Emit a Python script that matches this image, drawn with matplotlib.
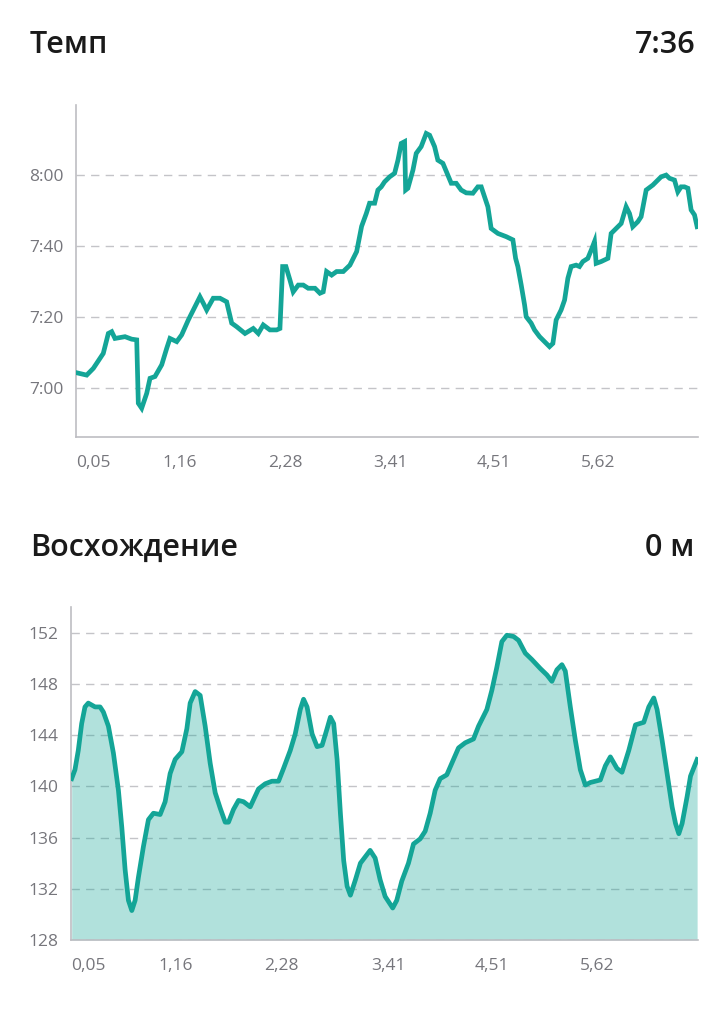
import matplotlib
matplotlib.use('Agg')
import matplotlib.pyplot as plt
from matplotlib.ticker import FuncFormatter, FixedLocator

plt.rcParams['font.family'] = ['Open Sans', 'DejaVu Sans']

# pace chart: distance (km) and pace (seconds per km)
pace_km = [0.05, 0.164, 0.235, 0.306, 0.341, 0.395, 0.431, 0.466, 0.573, 0.644,
           0.698, 0.715, 0.751, 0.805, 0.840, 0.893, 0.965, 1.018, 1.053, 1.125,
           1.178, 1.249, 1.338, 1.373, 1.409, 1.445, 1.515, 1.587, 1.658, 1.712,
           1.765, 1.854, 1.942, 1.996, 2.049, 2.120, 2.192, 2.227, 2.256, 2.291,
           2.334, 2.369, 2.423, 2.476, 2.529, 2.601, 2.654, 2.689, 2.725, 2.779,
           2.832, 2.903, 2.974, 3.046, 3.099, 3.149, 3.184, 3.238, 3.273, 3.309,
           3.344, 3.398, 3.451, 3.487, 3.522, 3.558, 3.569, 3.593, 3.647, 3.682,
           3.735, 3.789, 3.825, 3.878, 3.913, 3.967, 4.020, 4.056, 4.109, 4.162,
           4.216, 4.287, 4.340, 4.376, 4.412, 4.447, 4.482, 4.554, 4.643, 4.714,
           4.743, 4.767, 4.803, 4.839, 4.856, 4.909, 4.945, 4.999, 5.052, 5.105,
           5.141, 5.176, 5.229, 5.266, 5.301, 5.336, 5.389, 5.425, 5.461, 5.514,
           5.550, 5.585, 5.603, 5.656, 5.728, 5.763, 5.816, 5.870, 5.923, 5.959,
           5.994, 6.048, 6.083, 6.137, 6.208, 6.261, 6.296, 6.350, 6.386, 6.439,
           6.475, 6.510, 6.546, 6.582, 6.617, 6.653, 6.681]
pace_sec = [424.4, 423.7, 425.6, 428.4, 429.8, 435.4, 435.9, 434.0, 434.5, 433.8,
            433.6, 415.8, 414.4, 418.6, 422.8, 423.3, 426.6, 431.2, 434.0, 433.1,
            435.0, 439.2, 443.9, 445.7, 443.9, 442.0, 445.3, 445.3, 444.3, 438.3,
            437.3, 435.4, 436.8, 435.4, 437.8, 436.4, 436.4, 436.8, 454.2, 454.2,
            450.4, 447.1, 449.0, 449.0, 448.1, 448.1, 446.7, 447.1, 452.8, 451.8,
            452.8, 452.8, 454.6, 458.4, 465.5, 469.1, 472.0, 472.0, 475.7, 476.6,
            478.0, 479.4, 480.4, 484.1, 488.8, 489.3, 475.7, 476.2, 481.3, 486.0,
            487.9, 491.6, 491.1, 487.9, 484.1, 483.2, 479.9, 477.6, 477.6, 475.7,
            474.9, 474.8, 476.6, 476.6, 473.8, 471.0, 464.9, 463.5, 462.6, 461.7,
            456.5, 454.2, 449.0, 443.4, 440.1, 438.3, 436.4, 434.5, 433.1, 431.7,
            432.6, 439.2, 442.0, 444.8, 450.9, 454.2, 454.6, 454.2, 455.6, 456.5,
            458.8, 461.2, 455.1, 455.6, 456.5, 463.5, 464.9, 466.3, 471.0, 469.1,
            465.4, 466.8, 468.2, 475.7, 477.1, 478.5, 479.4, 479.9, 479.0, 478.5,
            475.2, 476.6, 476.6, 476.2, 470.1, 468.7, 465.4]

# elevation chart: distance (km) and height (m)
elev_km = [0.057, 0.092, 0.127, 0.163, 0.198, 0.233, 0.305, 0.358, 0.393, 0.446,
           0.499, 0.552, 0.588, 0.623, 0.658, 0.694, 0.729, 0.764, 0.817, 0.870,
           0.923, 0.994, 1.047, 1.100, 1.153, 1.224, 1.277, 1.312, 1.365, 1.418,
           1.471, 1.524, 1.577, 1.630, 1.683, 1.718, 1.771, 1.824, 1.877, 1.948,
           2.036, 2.107, 2.178, 2.248, 2.301, 2.372, 2.425, 2.478, 2.513, 2.550,
           2.603, 2.656, 2.709, 2.762, 2.797, 2.832, 2.868, 2.903, 2.938, 2.974,
           3.009, 3.062, 3.115, 3.218, 3.271, 3.324, 3.377, 3.457, 3.500, 3.553,
           3.624, 3.677, 3.748, 3.801, 3.854, 3.907, 3.960, 4.030, 4.083, 4.154,
           4.225, 4.313, 4.366, 4.454, 4.507, 4.560, 4.613, 4.666, 4.737, 4.790,
           4.861, 4.931, 5.020, 5.090, 5.143, 5.196, 5.249, 5.285, 5.338, 5.391,
           5.444, 5.497, 5.550, 5.656, 5.709, 5.762, 5.832, 5.885, 5.957, 6.028,
           6.116, 6.169, 6.222, 6.257, 6.310, 6.363, 6.416, 6.452, 6.487, 6.522,
           6.575, 6.611, 6.681]
elev_m = [140.6, 141.3, 142.8, 144.9, 146.2, 146.5, 146.2, 146.2, 145.8, 144.7,
          142.6, 139.7, 136.8, 133.5, 131.1, 130.3, 131.1, 132.9, 135.3, 137.4,
          137.9, 137.8, 138.8, 141.0, 142.1, 142.7, 144.5, 146.5, 147.4, 147.1,
          144.7, 141.8, 139.5, 138.3, 137.2, 137.2, 138.2, 138.9, 138.8, 138.4,
          139.8, 140.2, 140.4, 140.4, 141.4, 142.8, 144.1, 146.0, 146.8, 146.2,
          144.1, 143.1, 143.2, 144.5, 145.4, 144.9, 142.1, 137.9, 134.2, 132.2,
          131.5, 132.7, 134.0, 135.0, 134.4, 132.7, 131.4, 130.5, 131.1, 132.6,
          134.0, 135.5, 135.9, 136.5, 137.9, 139.7, 140.6, 140.9, 141.8, 143.0,
          143.4, 143.7, 144.7, 146.0, 147.5, 149.3, 151.3, 151.8, 151.7, 151.4,
          150.4, 149.9, 149.2, 148.7, 148.2, 149.1, 149.5, 149.0, 146.2, 143.6,
          141.3, 140.1, 140.3, 140.5, 141.6, 142.3, 141.4, 141.1, 142.8, 144.8,
          145.0, 146.2, 146.9, 146.0, 143.6, 141.0, 138.4, 137.1, 136.3, 137.1,
          139.2, 140.8, 142.1]

x_ticks = [0.05, 1.16, 2.28, 3.41, 4.51, 5.62]
pace_ticks = [420, 440, 460, 480]
elev_ticks = [128, 132, 136, 140, 144, 148, 152]

line_color = '#14a597'
fill_color = '#14a597'
grid_color = '#c4c4c8'
label_color = '#76767c'
spine_color = '#bdbdc2'


def style_axes(ax, yticks, yfmt):
    ax.set_xlim(0.05, 6.69)
    ax.xaxis.set_major_locator(FixedLocator(x_ticks))
    ax.xaxis.set_major_formatter(FuncFormatter(lambda v, p: f'{v:.2f}'.replace('.', ',')))
    ax.yaxis.set_major_locator(FixedLocator(yticks))
    ax.yaxis.set_major_formatter(FuncFormatter(yfmt))
    ax.tick_params(length=0, labelsize=12.5, labelcolor=label_color)
    ax.tick_params(axis='x', pad=13)
    ax.tick_params(axis='y', pad=9)
    for s in ['top', 'right']:
        ax.spines[s].set_visible(False)
    for s in ['left', 'bottom']:
        ax.spines[s].set_color(spine_color)
        ax.spines[s].set_linewidth(1.2)
    ax.grid(axis='y', color=grid_color, linestyle=(0, (6, 4.5)), linewidth=1.0)
    ax.set_axisbelow(True)
    ax.get_xticklabels()[0].set_horizontalalignment('left')


fig = plt.figure(figsize=(7.26, 10.24), dpi=100)

# pace
ax1 = fig.add_axes([0.1047, 0.5732, 0.8567, 0.3243])
ax1.plot(pace_km, pace_sec, color=line_color, linewidth=3.4,
         solid_joinstyle='miter', zorder=3)
ax1.set_ylim(406.3, 499.6)
style_axes(ax1, pace_ticks, lambda v, p: f'{int(v) // 60}:{int(v) % 60:02d}')
fig.text(30 / 726, 1 - 53 / 1024, 'Темп', fontsize=22, fontweight='semibold',
         color='#1a1a1a', ha='left', va='baseline')
fig.text(696 / 726, 1 - 53 / 1024, '7:36', fontsize=22, fontweight='semibold',
         color='#1a1a1a', ha='right', va='baseline')

# elevation
ax2 = fig.add_axes([0.0978, 0.0820, 0.8636, 0.3252])
ax2.fill_between(elev_km, elev_m, 128, color=fill_color, alpha=0.33,
                 linewidth=0, zorder=2)
ax2.plot(elev_km, elev_m, color=line_color, linewidth=3.4,
         solid_joinstyle='round', zorder=3)
ax2.set_ylim(128, 154)
style_axes(ax2, elev_ticks, lambda v, p: f'{int(v)}')
ax2.grid(axis='y', color=grid_color, linestyle=(0, (6, 4.5)), linewidth=1.0, zorder=2.5)
fig.text(30 / 726, 1 - 556 / 1024, 'Восхождение', fontsize=22, fontweight='semibold',
         color='#1a1a1a', ha='left', va='baseline')
fig.text(694 / 726, 1 - 556 / 1024, '0 м', fontsize=22, fontweight='semibold',
         color='#1a1a1a', ha='right', va='baseline')

fig.savefig('out.png', dpi=100)
